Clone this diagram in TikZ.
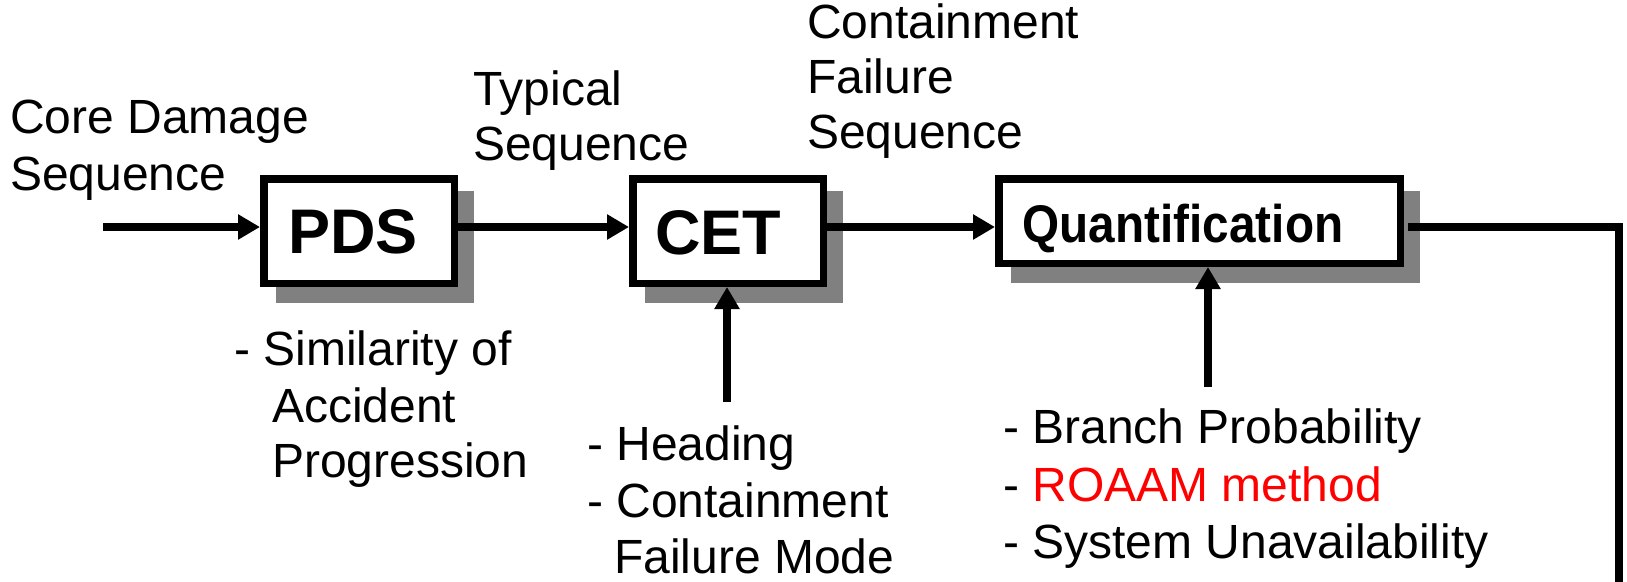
\documentclass[tikz,border=0pt]{standalone}
\usepackage{fontspec}
\setmainfont{Liberation Sans}
\usepackage{graphicx}
\usetikzlibrary{arrows.meta,backgrounds}
\definecolor{shadowgray}{HTML}{808080}
\definecolor{notered}{HTML}{FF0000}
\begin{document}
\begin{tikzpicture}[x=1pt,y=-1pt,
  every node/.style={inner sep=0pt},
  txt/.style={anchor=base west, font=\fontsize{48}{56}\selectfont},
  box/.style={draw, line width=7.5pt, fill=white,
    minimum width=190.5pt, minimum height=104.5pt,
    text depth=0pt, font=\bfseries\fontsize{63}{63}\selectfont},
  wire/.style={line width=7.5pt},
  arr/.style={wire, -{Triangle[length=22pt,width=24pt]}},
]
\useasboundingbox (0,0) rectangle (1627,581);

% process blocks
\node[box, text height=45pt] (PDS) at (359,231) {PDS\kern12pt};
\node[box, text height=46pt] (CET) at (728,231) {CET\kern20pt};
\node[box, minimum width=401.5pt, minimum height=84.5pt, text height=42pt,
      font=\bfseries\fontsize{53}{53}\selectfont]
  (QNT) at (1199.5,221) {\scalebox{0.9}[1]{Quantification}\kern33pt};

% drop shadows behind the blocks
\begin{scope}[on background layer]
  \foreach \n in {PDS,CET,QNT}
    \fill[shadowgray] ([xshift=16pt,yshift=-16pt]\n.south west)
      rectangle ([xshift=16pt,yshift=-16pt]\n.north east);
\end{scope}

% main flow
\coordinate (src) at (103,227);
\draw[arr] (src) -- (src -| PDS.west);
\draw[arr] ([yshift=4pt]PDS.east) -- ([yshift=4pt]CET.west);
\draw[arr] ([yshift=4pt]CET.east) -- ([yshift=4pt]CET.east -| QNT.west);
\coordinate (sink) at (1619,590);
\draw[wire] ([xshift=4pt,yshift=-6pt]QNT.east) -| (sink);

% side inputs
\coordinate (cetfeed) at (727,402);
\draw[arr] (cetfeed) -- (cetfeed |- CET.south);
\coordinate (qntfeed) at (1208,387);
\draw[arr] (qntfeed) -- (qntfeed |- QNT.south);

% flow labels
\node[txt] (cds1) at (10,133) {Core Damage};
\node[txt] (cds2) at (10,190) {Sequence};
\node[txt] (ts1) at (473,105) {Typical};
\node[txt] (ts2) at (473,160) {Sequence};
\node[txt] (cfs1) at (807,38) {Containment};
\node[txt] (cfs2) at (807,93) {Failure};
\node[txt] (cfs3) at (807,148) {Sequence};

% notes under the blocks
\node[txt] (pn1) at (234,365) {- Similarity of};
\node[txt] (pn2) at (272,422) {Accident};
\node[txt] (pn3) at (272,477) {Progression};

\node[txt] (cn1) at (587,460) {- Heading};
\node[txt] (cn2) at (587,517) {- Containment};
\node[txt] (cn3) at (614,573) {Failure Mode};

\node[txt] (qn1) at (1003,443) {- Branch Probability};
\node[txt] (qn2) at (1003,501) {- \textcolor{notered}{ROAAM method}};
\node[txt] (qn3) at (1003,558) {- System Unavailability};
\end{tikzpicture}
\end{document}
